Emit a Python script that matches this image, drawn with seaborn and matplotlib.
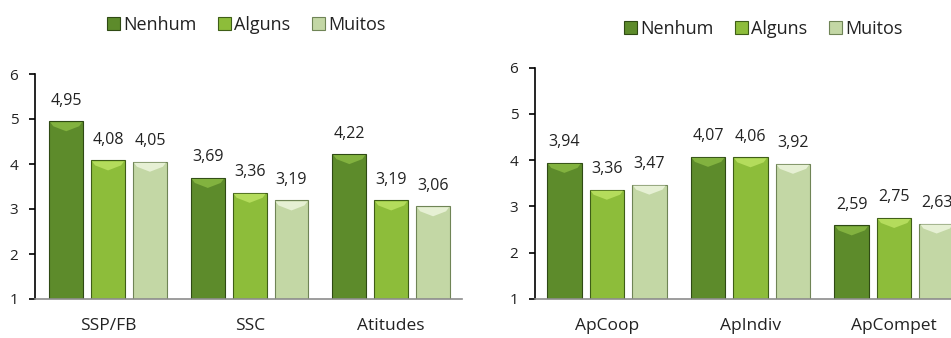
import matplotlib
matplotlib.use("Agg")
import matplotlib.pyplot as plt
from matplotlib.patches import Polygon
import seaborn as sns
import pandas as pd

groups = ["Nenhum", "Alguns", "Muitos"]
left_cats = ["SSP/FB", "SSC", "Atitudes"]
left_nenhum = [4.95, 3.69, 4.22]
left_alguns = [4.08, 3.36, 3.19]
left_muitos = [4.05, 3.19, 3.06]
right_cats = ["ApCoop", "ApIndiv", "ApCompet"]
right_nenhum = [3.94, 4.07, 2.59]
right_alguns = [3.36, 4.06, 2.75]
right_muitos = [3.47, 3.92, 2.63]
yticks = [1, 2, 3, 4, 5, 6]

colors = ["#5d8b2b", "#8dbd3a", "#c3d7a5"]
bevels = ["#82b23f", "#b4dc5c", "#e6f0d4"]
edges = ["#2f4a14", "#3f5e17", "#6f8456"]

sns.set_theme(style="white")
plt.rcParams['font.family'] = ['Open Sans', 'DejaVu Sans']

fig = plt.figure(figsize=(9.51, 3.38), dpi=100)
W, H = 951, 338


def make_df(cats, a, b, c):
    rows = []
    for g, vals in zip(groups, [a, b, c]):
        for cat, v in zip(cats, vals):
            rows.append({"cat": cat, "grupo": g, "val": v})
    return pd.DataFrame(rows)


def draw(ax, df, cats, xlim, legend_xy):
    sns.barplot(data=df, x="cat", y="val", hue="grupo", hue_order=groups,
                order=cats, palette=colors, width=0.887, gap=0.19,
                errorbar=None, ax=ax, saturation=1, legend=True)
    ax.set_ylim(1, 6)
    ax.set_xlim(*xlim)
    inv = ax.transData.inverted()
    for cont, ec, bc in zip(ax.containers, edges, bevels):
        for p in cont:
            p.set_edgecolor(ec)
            p.set_linewidth(0.8)
            # bevel highlight at the top of each bar
            x0, x1 = p.get_x(), p.get_x() + p.get_width()
            top = p.get_y() + p.get_height()
            (px0, ptop), (px1, _) = ax.transData.transform([(x0, top), (x1, top)])
            pxc = (px0 + px1) / 2
            pts_px = [(px0 + 1, ptop - 1), (px1 - 1, ptop - 1), (px1 - 4, ptop - 5),
                      (pxc, ptop - 10), (px0 + 4, ptop - 5)]
            pts = inv.transform(pts_px)
            ax.add_patch(Polygon(pts, closed=True, facecolor=bc,
                                 edgecolor="none", zorder=p.get_zorder() + 0.1))
        ax.bar_label(cont, labels=[f"{v:.2f}".replace(".", ",") for v in cont.datavalues],
                     padding=9, fontsize=11.5, color="#222222")
    ax.set_yticks(yticks)
    ax.set_xlabel("")
    ax.set_ylabel("")
    for s in ["top", "right"]:
        ax.spines[s].set_visible(False)
    ax.spines["left"].set_color("#000000")
    ax.spines["left"].set_linewidth(1.2)
    ax.spines["bottom"].set_color("#8c8c8c")
    ax.spines["bottom"].set_linewidth(1.2)
    ax.tick_params(axis="y", left=True, length=4, width=1.2, color="#000000",
                   labelsize=11, pad=8, labelcolor="#222222")
    ax.tick_params(axis="x", bottom=False, labelsize=12.5, pad=8, labelcolor="#222222")
    leg = ax.legend(loc="center", bbox_to_anchor=legend_xy, bbox_transform=fig.transFigure,
                    ncol=3, frameon=False, fontsize=13, handlelength=0.75, handleheight=0.75,
                    handletextpad=0.15, columnspacing=1.2)
    for h, ec in zip(leg.legend_handles, edges):
        h.set_edgecolor(ec)
        h.set_linewidth(0.8)
    for t in leg.get_texts():
        t.set_color("#222222")


ax1 = fig.add_axes([35 / W, (H - 299) / H, (462 - 35) / W, (299 - 74) / H])
draw(ax1, make_df(left_cats, left_nenhum, left_alguns, left_muitos), left_cats,
     (-0.516, 2.5), (246 / W, 1 - 25 / H))

ax2 = fig.add_axes([535 / W, (H - 299) / H, (966 - 535) / W, (299 - 67.5) / H])
draw(ax2, make_df(right_cats, right_nenhum, right_alguns, right_muitos), right_cats,
     (-0.5, 2.5), (763 / W, 1 - 29 / H))

fig.savefig("out.png", dpi=100)
